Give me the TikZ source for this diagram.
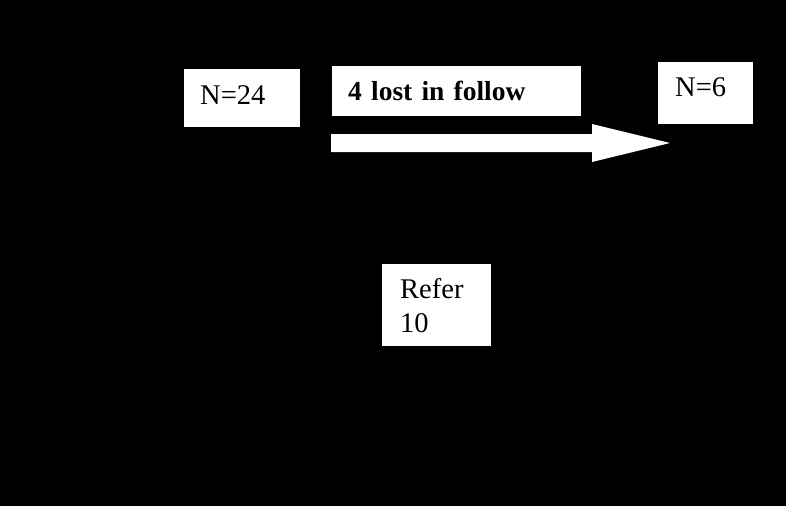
\documentclass[tikz,border=0pt]{standalone}
\usepackage{fontspec}
\setmainfont{Liberation Serif}
\usetikzlibrary{arrows.meta}

\begin{document}
\begin{tikzpicture}[
			x=1pt, y=-1pt,
			% Styles des cases
			caseBlanche/.style={fill=white, anchor=north west, inner ysep=0pt, align=left, font=\fontsize{28.5}{34}\selectfont},
			flecheBlanche/.style={fill=white},
			]

			\fill[black] (0,0) rectangle (786,506);
			
			
			\node[caseBlanche, inner xsep=16pt, text width=84pt, minimum height=58pt, text depth=6pt] (depart) at (184,69) {N=24};
			\node[caseBlanche, inner xsep=16pt, text width=217pt, minimum height=50pt, font=\fontsize{27.5}{33}\selectfont\bfseries] (perdus) at (332,66) {4 lost in follow};
			\node[caseBlanche, inner xsep=17pt, text width=61pt, minimum height=62pt, text depth=12pt] (suivi) at (658,62) {N=6};
			\node[caseBlanche, inner xsep=18pt, text width=73pt, minimum height=82pt] (refer) at (382,264) {Refer\\10};
			
			
			\coordinate (queue) at (331,143);
			\coordinate (pointe) at (670,143);
			\fill[flecheBlanche] (queue) ++(0,-9) -- ++(261,0) -- ++(0,-10) -- (pointe)
				-- ++(-78,19) -- ++(0,-10) -- ++(-261,0) -- cycle;
			
		\end{tikzpicture}
\end{document}
